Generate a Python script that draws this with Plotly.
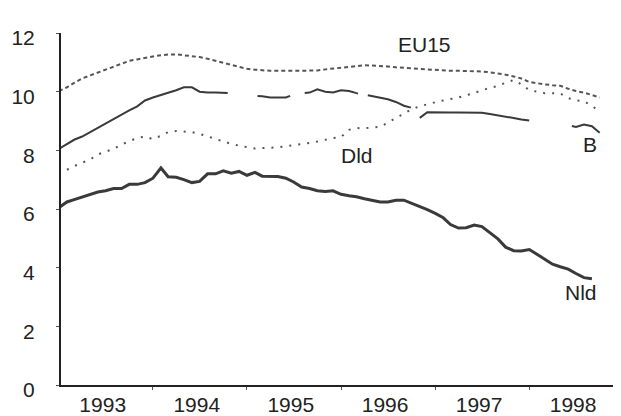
import plotly.graph_objects as go
import pandas as pd

months = pd.date_range("1993-01-01", periods=70, freq="MS")

eu15 = [10.02, 10.15, 10.30, 10.45, 10.55, 10.65, 10.74, 10.86, 10.95, 11.05, 11.10, 11.16,
        11.20, 11.24, 11.27, 11.27, 11.24, 11.22, 11.18, 11.12, 11.05, 10.97, 10.90, 10.84,
        10.78, 10.75, 10.72, 10.71, 10.71, 10.71, 10.71, 10.71, 10.71, 10.72, 10.76, 10.79,
        10.82, 10.86, 10.88, 10.90, 10.89, 10.88, 10.86, 10.83, 10.81, 10.79, 10.78, 10.77,
        10.75, 10.72, 10.71, 10.71, 10.71, 10.71, 10.69, 10.66, 10.63, 10.58, 10.52, 10.45,
        10.33, 10.28, 10.25, 10.22, 10.20, 10.10, 10.02, 9.97, 9.88, 9.80]

b = [8.05, 8.20, 8.36, 8.47, 8.62, 8.77, 8.90, 9.07, 9.22, 9.36, 9.50, 9.70,
     9.80, 9.88, 9.95, 10.05, 10.15, 10.15, 10.00, 9.97, 9.97, 9.97, 9.95, 9.92,
     9.90, 9.87, 9.84, 9.80, 9.80, 9.80, 9.90, 9.95, 9.97, 10.08, 10.00, 9.97,
     10.05, 10.02, 9.95, 9.90, 9.86, 9.80, 9.74, 9.65, 9.52, 9.45, 9.10, 9.30,
     9.29, 9.29, 9.29, 9.29, 9.29, 9.29, 9.28, 9.24, 9.20, 9.15, 9.10, 9.05,
     9.02, 8.97, 8.95, 8.92, 8.90, 8.85, 8.80, 8.88, 8.82, 8.60]

dld = [7.20, 7.35, 7.46, 7.58, 7.68, 7.86, 7.96, 8.05, 8.20, 8.32, 8.42, 8.47,
       8.38, 8.50, 8.62, 8.66, 8.64, 8.62, 8.56, 8.47, 8.38, 8.30, 8.22, 8.16,
       8.10, 8.06, 8.08, 8.09, 8.10, 8.14, 8.17, 8.20, 8.25, 8.30, 8.36, 8.42,
       8.45, 8.70, 8.76, 8.75, 8.78, 8.80, 8.95, 9.10, 9.25, 9.40, 9.50, 9.58,
       9.64, 9.70, 9.75, 9.80, 9.88, 9.95, 10.05, 10.12, 10.20, 10.30, 10.40, 10.25,
       10.05, 10.00, 9.95, 9.95, 9.94, 9.78, 9.70, 9.68, 9.52, 9.34]

nld = [6.05, 6.24, 6.32, 6.40, 6.48, 6.58, 6.62, 6.70, 6.70, 6.84, 6.84, 6.90,
       7.05, 7.40, 7.10, 7.08, 7.00, 6.90, 6.94, 7.20, 7.20, 7.30, 7.22, 7.28,
       7.15, 7.25, 7.12, 7.11, 7.11, 7.05, 6.92, 6.75, 6.70, 6.62, 6.60, 6.62,
       6.50, 6.45, 6.42, 6.35, 6.30, 6.24, 6.24, 6.30, 6.30, 6.20, 6.07, 5.98,
       5.85, 5.70, 5.47, 5.35, 5.36, 5.45, 5.40, 5.20, 4.98, 4.70, 4.58, 4.57,
       4.62, 4.45, 4.30, 4.12, 4.03, 3.95, 3.80, 3.66, 3.62]

years = [1993, 1994, 1995, 1996, 1997, 1998]
y_ticks = [0, 2, 4, 6, 8, 10, 12]

font = "Liberation Sans, Arial, sans-serif"
line_col = "#3a3a3a"
b_dash = "185px,30px,33px,15px,55px,10px,45px,14px,112px,43px,80px"

fig = go.Figure()
fig.add_trace(go.Scatter(x=months[:len(eu15)], y=eu15, mode="lines",
                         line=dict(color="#555555", width=2, dash="4px,3px")))
fig.add_trace(go.Scatter(x=months[:len(dld)], y=dld, mode="lines",
                         line=dict(color="#555555", width=2, dash="2px,7px")))
fig.add_trace(go.Scatter(x=months[:len(b)], y=b, mode="lines",
                         line=dict(color=line_col, width=2, dash=b_dash)))
fig.add_trace(go.Scatter(x=months[:len(nld)], y=nld, mode="lines",
                         line=dict(color=line_col, width=3)))

labels = [("EU15", 0.651, 0.966), ("B", 0.946, 0.682), ("Dld", 0.5295, 0.653), ("Nld", 0.930, 0.264)]
for txt, xp, yp in labels:
    fig.add_annotation(text=txt, x=xp, y=yp, xref="paper", yref="paper",
                       showarrow=False, xanchor="center", yanchor="middle",
                       font=dict(family=font, size=21, color="#222222"))

# page body has an 8px margin, so the figure is offset by (8, 8)
fig.update_layout(
    width=613, height=408,
    margin=dict(l=53, r=1, t=25, b=31),
    paper_bgcolor="white", plot_bgcolor="white",
    showlegend=False,
    font=dict(family=font, size=21, color="#222222"),
)
fig.update_xaxes(
    type="date",
    range=["1993-01-09", "1998-12-19"],
    showgrid=False, zeroline=False,
    showline=True, linecolor="#222222", linewidth=2,
    tickmode="array",
    tickvals=[f"{y}-06-20" for y in years],
    ticktext=[str(y) for y in years],
    ticks="", ticklen=0,
    minor=dict(tickmode="array", tickvals=[f"{y}-01-01" for y in years[1:]],
               ticks="outside", ticklen=3, tickwidth=1, tickcolor="#555555"),
    tickfont=dict(size=21),
)
fig.update_yaxes(
    range=[0, 12],
    showgrid=False, zeroline=False,
    showline=True, linecolor="#222222", linewidth=2,
    tickmode="array", tickvals=y_ticks, ticktext=[str(v) for v in y_ticks],
    ticks="outside", ticklen=3, tickwidth=1, tickcolor="#555555",
    ticklabelstandoff=17, ticklabelshift=5,
    tickfont=dict(size=21),
)

fig.write_html("out.html")
